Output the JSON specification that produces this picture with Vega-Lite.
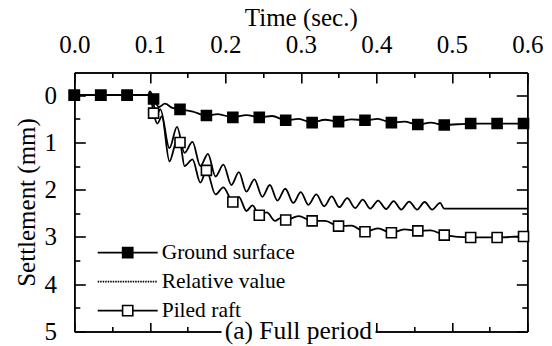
{
  "$schema": "https://vega.github.io/schema/vega-lite/v6.json",
  "width": 453,
  "height": 259,
  "autosize": {"type": "none"},
  "padding": {"left": 74.3, "top": 72.5, "right": 24.7, "bottom": 14.3},
  "background": "white",
  "config": {
    "view": {"stroke": null},
    "axis": {
      "domainColor": "black", "tickColor": "black",
      "domainWidth": 1.6, "tickWidth": 1.6, "grid": false,
      "labelFlush": false, "labelOverlap": false, "labelBound": false
    }
  },
  "datasets": {
    "lines": [
      {"series": "Ground surface", "t": 0, "mm": 0}, {"series": "Ground surface", "t": 0.035, "mm": 0}, {"series": "Ground surface", "t": 0.07, "mm": 0}, {"series": "Ground surface", "t": 0.098, "mm": 0}, {"series": "Ground surface", "t": 0.1, "mm": -0.03}, {"series": "Ground surface", "t": 0.103, "mm": 0.05}, {"series": "Ground surface", "t": 0.105, "mm": 0.08}, {"series": "Ground surface", "t": 0.112, "mm": 0.25}, {"series": "Ground surface", "t": 0.12, "mm": 0.18}, {"series": "Ground surface", "t": 0.13, "mm": 0.27}, {"series": "Ground surface", "t": 0.14, "mm": 0.30}, {"series": "Ground surface", "t": 0.157, "mm": 0.35}, {"series": "Ground surface", "t": 0.175, "mm": 0.43}, {"series": "Ground surface", "t": 0.19, "mm": 0.40}, {"series": "Ground surface", "t": 0.21, "mm": 0.47}, {"series": "Ground surface", "t": 0.228, "mm": 0.42}, {"series": "Ground surface", "t": 0.245, "mm": 0.47}, {"series": "Ground surface", "t": 0.262, "mm": 0.44}, {"series": "Ground surface", "t": 0.28, "mm": 0.53}, {"series": "Ground surface", "t": 0.297, "mm": 0.50}, {"series": "Ground surface", "t": 0.315, "mm": 0.58}, {"series": "Ground surface", "t": 0.332, "mm": 0.52}, {"series": "Ground surface", "t": 0.35, "mm": 0.56}, {"series": "Ground surface", "t": 0.367, "mm": 0.51}, {"series": "Ground surface", "t": 0.385, "mm": 0.53}, {"series": "Ground surface", "t": 0.402, "mm": 0.50}, {"series": "Ground surface", "t": 0.42, "mm": 0.58}, {"series": "Ground surface", "t": 0.437, "mm": 0.56}, {"series": "Ground surface", "t": 0.455, "mm": 0.62}, {"series": "Ground surface", "t": 0.472, "mm": 0.58}, {"series": "Ground surface", "t": 0.49, "mm": 0.63}, {"series": "Ground surface", "t": 0.525, "mm": 0.60}, {"series": "Ground surface", "t": 0.56, "mm": 0.60}, {"series": "Ground surface", "t": 0.595, "mm": 0.60}, {"series": "Ground surface", "t": 0.6, "mm": 0.60},
      {"series": "Relative value", "t": 0, "mm": 0}, {"series": "Relative value", "t": 0.035, "mm": 0}, {"series": "Relative value", "t": 0.07, "mm": 0}, {"series": "Relative value", "t": 0.098, "mm": 0}, {"series": "Relative value", "t": 0.1, "mm": -0.08}, {"series": "Relative value", "t": 0.104, "mm": 0.05}, {"series": "Relative value", "t": 0.108, "mm": 0.45}, {"series": "Relative value", "t": 0.114, "mm": 0.3}, {"series": "Relative value", "t": 0.126, "mm": 1.12}, {"series": "Relative value", "t": 0.136, "mm": 0.67}, {"series": "Relative value", "t": 0.146, "mm": 1.22}, {"series": "Relative value", "t": 0.1565, "mm": 0.99}, {"series": "Relative value", "t": 0.167, "mm": 1.50}, {"series": "Relative value", "t": 0.177, "mm": 1.24}, {"series": "Relative value", "t": 0.187, "mm": 1.72}, {"series": "Relative value", "t": 0.1975, "mm": 1.47}, {"series": "Relative value", "t": 0.208, "mm": 1.90}, {"series": "Relative value", "t": 0.218, "mm": 1.63}, {"series": "Relative value", "t": 0.228, "mm": 2.04}, {"series": "Relative value", "t": 0.2385, "mm": 1.78}, {"series": "Relative value", "t": 0.249, "mm": 2.15}, {"series": "Relative value", "t": 0.259, "mm": 1.90}, {"series": "Relative value", "t": 0.269, "mm": 2.23}, {"series": "Relative value", "t": 0.2795, "mm": 1.98}, {"series": "Relative value", "t": 0.29, "mm": 2.28}, {"series": "Relative value", "t": 0.3, "mm": 2.05}, {"series": "Relative value", "t": 0.31, "mm": 2.32}, {"series": "Relative value", "t": 0.3205, "mm": 2.10}, {"series": "Relative value", "t": 0.331, "mm": 2.35}, {"series": "Relative value", "t": 0.341, "mm": 2.14}, {"series": "Relative value", "t": 0.351, "mm": 2.37}, {"series": "Relative value", "t": 0.3615, "mm": 2.18}, {"series": "Relative value", "t": 0.372, "mm": 2.39}, {"series": "Relative value", "t": 0.382, "mm": 2.21}, {"series": "Relative value", "t": 0.392, "mm": 2.40}, {"series": "Relative value", "t": 0.4025, "mm": 2.23}, {"series": "Relative value", "t": 0.413, "mm": 2.41}, {"series": "Relative value", "t": 0.423, "mm": 2.24}, {"series": "Relative value", "t": 0.433, "mm": 2.42}, {"series": "Relative value", "t": 0.4435, "mm": 2.25}, {"series": "Relative value", "t": 0.454, "mm": 2.42}, {"series": "Relative value", "t": 0.464, "mm": 2.26}, {"series": "Relative value", "t": 0.474, "mm": 2.42}, {"series": "Relative value", "t": 0.4845, "mm": 2.28}, {"series": "Relative value", "t": 0.49, "mm": 2.40}, {"series": "Relative value", "t": 0.6, "mm": 2.40},
      {"series": "Piled raft", "t": 0, "mm": 0}, {"series": "Piled raft", "t": 0.035, "mm": 0}, {"series": "Piled raft", "t": 0.07, "mm": 0}, {"series": "Piled raft", "t": 0.098, "mm": 0}, {"series": "Piled raft", "t": 0.1, "mm": -0.04}, {"series": "Piled raft", "t": 0.105, "mm": 0.38}, {"series": "Piled raft", "t": 0.11, "mm": 0.6}, {"series": "Piled raft", "t": 0.116, "mm": 0.45}, {"series": "Piled raft", "t": 0.126, "mm": 1.40}, {"series": "Piled raft", "t": 0.136, "mm": 0.96}, {"series": "Piled raft", "t": 0.14, "mm": 1.00}, {"series": "Piled raft", "t": 0.146, "mm": 1.50}, {"series": "Piled raft", "t": 0.1565, "mm": 1.36}, {"series": "Piled raft", "t": 0.167, "mm": 1.85}, {"series": "Piled raft", "t": 0.175, "mm": 1.59}, {"series": "Piled raft", "t": 0.187, "mm": 2.10}, {"series": "Piled raft", "t": 0.1975, "mm": 1.95}, {"series": "Piled raft", "t": 0.21, "mm": 2.26}, {"series": "Piled raft", "t": 0.218, "mm": 2.15}, {"series": "Piled raft", "t": 0.228, "mm": 2.45}, {"series": "Piled raft", "t": 0.236, "mm": 2.33}, {"series": "Piled raft", "t": 0.245, "mm": 2.54}, {"series": "Piled raft", "t": 0.255, "mm": 2.48}, {"series": "Piled raft", "t": 0.266, "mm": 2.66}, {"series": "Piled raft", "t": 0.273, "mm": 2.60}, {"series": "Piled raft", "t": 0.28, "mm": 2.64}, {"series": "Piled raft", "t": 0.297, "mm": 2.56}, {"series": "Piled raft", "t": 0.315, "mm": 2.66}, {"series": "Piled raft", "t": 0.332, "mm": 2.66}, {"series": "Piled raft", "t": 0.35, "mm": 2.77}, {"series": "Piled raft", "t": 0.367, "mm": 2.76}, {"series": "Piled raft", "t": 0.385, "mm": 2.89}, {"series": "Piled raft", "t": 0.402, "mm": 2.82}, {"series": "Piled raft", "t": 0.42, "mm": 2.91}, {"series": "Piled raft", "t": 0.437, "mm": 2.84}, {"series": "Piled raft", "t": 0.455, "mm": 2.87}, {"series": "Piled raft", "t": 0.472, "mm": 2.86}, {"series": "Piled raft", "t": 0.49, "mm": 2.96}, {"series": "Piled raft", "t": 0.525, "mm": 3.01}, {"series": "Piled raft", "t": 0.56, "mm": 3.01}, {"series": "Piled raft", "t": 0.595, "mm": 2.99}, {"series": "Piled raft", "t": 0.6, "mm": 2.99}
    ],
    "markers": [
      {"series": "Piled raft", "t": 0, "mm": 0}, {"series": "Piled raft", "t": 0.035, "mm": 0}, {"series": "Piled raft", "t": 0.07, "mm": 0}, {"series": "Piled raft", "t": 0.105, "mm": 0.38}, {"series": "Piled raft", "t": 0.14, "mm": 1.00}, {"series": "Piled raft", "t": 0.175, "mm": 1.59}, {"series": "Piled raft", "t": 0.21, "mm": 2.26}, {"series": "Piled raft", "t": 0.245, "mm": 2.54}, {"series": "Piled raft", "t": 0.28, "mm": 2.64}, {"series": "Piled raft", "t": 0.315, "mm": 2.66}, {"series": "Piled raft", "t": 0.35, "mm": 2.77}, {"series": "Piled raft", "t": 0.385, "mm": 2.89}, {"series": "Piled raft", "t": 0.42, "mm": 2.91}, {"series": "Piled raft", "t": 0.455, "mm": 2.87}, {"series": "Piled raft", "t": 0.49, "mm": 2.96}, {"series": "Piled raft", "t": 0.525, "mm": 3.01}, {"series": "Piled raft", "t": 0.56, "mm": 3.01}, {"series": "Piled raft", "t": 0.595, "mm": 2.99},
      {"series": "Ground surface", "t": 0, "mm": 0}, {"series": "Ground surface", "t": 0.035, "mm": 0}, {"series": "Ground surface", "t": 0.07, "mm": 0}, {"series": "Ground surface", "t": 0.105, "mm": 0.08}, {"series": "Ground surface", "t": 0.14, "mm": 0.30}, {"series": "Ground surface", "t": 0.175, "mm": 0.43}, {"series": "Ground surface", "t": 0.21, "mm": 0.47}, {"series": "Ground surface", "t": 0.245, "mm": 0.47}, {"series": "Ground surface", "t": 0.28, "mm": 0.53}, {"series": "Ground surface", "t": 0.315, "mm": 0.58}, {"series": "Ground surface", "t": 0.35, "mm": 0.56}, {"series": "Ground surface", "t": 0.385, "mm": 0.53}, {"series": "Ground surface", "t": 0.42, "mm": 0.58}, {"series": "Ground surface", "t": 0.455, "mm": 0.62}, {"series": "Ground surface", "t": 0.49, "mm": 0.63}, {"series": "Ground surface", "t": 0.525, "mm": 0.60}, {"series": "Ground surface", "t": 0.56, "mm": 0.60}, {"series": "Ground surface", "t": 0.595, "mm": 0.60}
    ]
  },
  "resolve": {"axis": {"x": "independent", "y": "independent"}},
  "layer": [
    {
      "data": {"name": "lines"},
      "mark": {"type": "line", "interpolate": "monotone", "strokeWidth": 1.8},
      "encoding": {
        "x": {"field": "t", "type": "quantitative",
          "scale": {"domain": [0, 0.6], "nice": false, "zero": false},
          "axis": {"orient": "top", "values": [0, 0.1, 0.2, 0.3, 0.4, 0.5, 0.6], "format": ".1f", "tickSize": -10.5, "labelPadding": 25, "title": "Time (sec.)", "titlePadding": 2,
            "labelFont": "Liberation Serif", "titleFont": "Liberation Serif", "labelFontSize": 25, "titleFontSize": 25, "titleFontWeight": "normal", "labelColor": "black", "titleColor": "black"}},
        "y": {"field": "mm", "type": "quantitative",
          "scale": {"domain": [-0.48, 5], "reverse": true, "nice": false, "zero": false},
          "axis": {"orient": "left", "values": [0, 1, 2, 3, 4, 5], "format": "d", "tickSize": -11, "labelPadding": 28.8, "title": "Settlement (mm)", "titlePadding": 5,
            "labelFont": "Liberation Serif", "titleFont": "Liberation Serif", "labelFontSize": 25, "titleFontSize": 25, "titleFontWeight": "normal", "labelColor": "black", "titleColor": "black"}},
        "color": {"field": "series", "type": "nominal",
          "scale": {"domain": ["Ground surface", "Relative value", "Piled raft"], "range": ["black", "black", "black"]},
          "legend": {
            "title": null, "orient": "none", "legendX": 22.4, "legendY": 166,
            "padding": 0, "rowPadding": 0, "symbolSize": 3600, "clipHeight": 28.3,
            "labelFont": "Liberation Serif", "labelFontSize": 21.5, "labelColor": "black", "labelOffset": 3,
            "symbolStrokeWidth": 1.6,
            "encode": {"symbols": {"update": {
              "shape": {"signal": "datum.value === 'Relative value' ? 'M-1,0H1' : 'M-1,0H-0.17M0.17,0H1M-0.17,-0.17H0.17V0.17H-0.17Z'"},
              "fill": {"signal": "datum.value === 'Ground surface' ? 'black' : 'white'"},
              "stroke": {"value": "black"},
              "strokeDash": {"signal": "datum.value === 'Relative value' ? [1.5, 1] : [1, 0]"}
            }}}
          }}
      }
    },
    {
      "data": {"name": "markers"},
      "mark": {"type": "point", "shape": "square", "size": 100, "filled": true, "stroke": "black", "strokeWidth": 1.6, "opacity": 1},
      "encoding": {
        "x": {"field": "t", "type": "quantitative",
          "scale": {"domain": [0, 0.6], "nice": false, "zero": false},
          "axis": {"orient": "bottom", "values": [0, 0.1, 0.2, 0.3, 0.4, 0.5, 0.6], "labels": false, "tickSize": -9, "title": null}},
        "y": {"field": "mm", "type": "quantitative",
          "scale": {"domain": [-0.48, 5], "reverse": true, "nice": false, "zero": false},
          "axis": {"orient": "right", "values": [0, 1, 2, 3, 4, 5], "labels": false, "tickSize": -11, "title": null}},
        "fill": {"field": "series", "type": "nominal",
          "scale": {"domain": ["Ground surface", "Piled raft"], "range": ["black", "white"]},
          "legend": null}
      }
    },
    {
      "data": {"name": "markers"},
      "mark": {"type": "point", "opacity": 0},
      "encoding": {
        "x": {"field": "t", "type": "quantitative",
          "scale": {"domain": [0, 0.6], "nice": false, "zero": false},
          "axis": {"orient": "top", "values": [0.05, 0.15, 0.25, 0.35, 0.45, 0.55], "labels": false, "tickSize": -5, "title": null}},
        "y": {"field": "mm", "type": "quantitative",
          "scale": {"domain": [-0.48, 5], "reverse": true, "nice": false, "zero": false},
          "axis": {"orient": "left", "values": [0.5, 1.5, 2.5, 3.5, 4.5], "labels": false, "tickSize": -5.5, "title": null}}
      }
    },
    {
      "data": {"name": "markers"},
      "mark": {"type": "point", "opacity": 0},
      "encoding": {
        "x": {"field": "t", "type": "quantitative",
          "scale": {"domain": [0, 0.6], "nice": false, "zero": false},
          "axis": {"orient": "bottom", "values": [0.05, 0.15, 0.25, 0.35, 0.45, 0.55], "labels": false, "tickSize": -5, "title": null}},
        "y": {"field": "mm", "type": "quantitative",
          "scale": {"domain": [-0.48, 5], "reverse": true, "nice": false, "zero": false},
          "axis": {"orient": "right", "values": [0.5, 1.5, 2.5, 3.5, 4.5], "labels": false, "tickSize": -5.5, "title": null}}
      }
    },
    {
      "data": {"values": [{"label": "(a) Full period"}]},
      "mark": {"type": "rect", "fill": "white"},
      "encoding": {
        "x": {"datum": 0.195, "type": "quantitative", "axis": null},
        "x2": {"datum": 0.399},
        "y": {"datum": 4.74, "type": "quantitative", "axis": null},
        "y2": {"datum": 5.35}
      }
    },
    {
      "data": {"values": [{"label": "(a) Full period"}]},
      "mark": {"type": "text", "font": "Liberation Serif", "fontSize": 25.5, "align": "center", "baseline": "alphabetic", "color": "black"},
      "encoding": {
        "x": {"datum": 0.2967, "type": "quantitative", "axis": null},
        "y": {"datum": 5.165, "type": "quantitative", "axis": null},
        "text": {"field": "label"}
      }
    }
  ]
}
